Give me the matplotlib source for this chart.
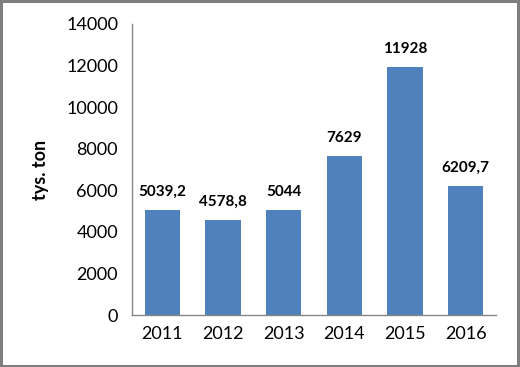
import matplotlib.pyplot as plt
from matplotlib.patches import Rectangle

years = ['2011', '2012', '2013', '2014', '2015', '2016']
values = [5039.2, 4578.8, 5044, 7629, 11928, 6209.7]
labels = ['5039,2', '4578,8', '5044', '7629', '11928', '6209,7']

plt.rcParams['font.family'] = ['Lato', 'DejaVu Sans']

fig = plt.figure(figsize=(5.2, 3.67), dpi=100, facecolor='white')
# grey frame round the chart area
fig.patches.append(Rectangle((0.002, 0.003), 0.995, 0.993, transform=fig.transFigure,
                             fill=False, edgecolor='#7f7f7f', linewidth=2.2))

ax = fig.add_axes([132 / 520, 1 - 315 / 367, (496 - 132) / 520, (315 - 24) / 367])
x = range(len(years))
ax.bar(x, values, width=0.58, color='#4f81bd')
for i, v in enumerate(values):
    ax.annotate(labels[i], (i, v), xytext=(0, 8), textcoords='offset points',
                ha='center', va='bottom', fontsize=11, fontweight='bold')

ax.set_xlim(-0.5, len(years) - 0.5)
ax.set_ylim(0, 14000)
ax.set_yticks(range(0, 14001, 2000))
ax.set_xticks(list(x))
ax.set_xticklabels(years)
ax.tick_params(length=0, labelsize=13, pad=8)
ax.tick_params(axis='y', pad=10)
for s in ['top', 'right']:
    ax.spines[s].set_visible(False)
for s in ['left', 'bottom']:
    ax.spines[s].set_color('#868686')
    ax.spines[s].set_linewidth(1)
ax.set_ylabel('tys. ton', fontsize=13, fontweight='bold', labelpad=12)

fig.savefig('out.png', dpi=100)
